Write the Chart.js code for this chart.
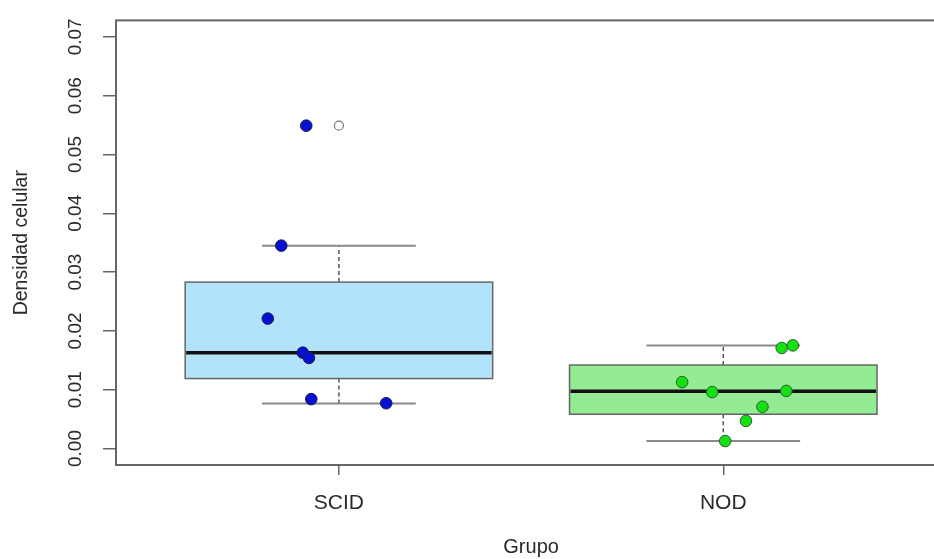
<!DOCTYPE html>
<html>
<head>
<meta charset="utf-8">
<script src="https://cdn.jsdelivr.net/npm/chart.js@4"></script>
<style>
  html, body { margin: 0; background: #fff; overflow: hidden; }
  #wrap { width: 953px; height: 559px; }
</style>
</head>
<body>
<div id="wrap"><canvas id="boxChart" width="953" height="559"></canvas></div>
<script>
// groups and tick values
const groups = ["SCID", "NOD"];
const groupPos = [1, 2];
const yTicks = [0, 0.01, 0.02, 0.03, 0.04, 0.05, 0.06, 0.07];

// box stats (lower whisker, q1, median, q3, upper whisker)
const whiskerLow = [0.00766, 0.00127];
const q1 = [0.0119, 0.00583];
const median = [0.0163, 0.00972];
const q3 = [0.0283, 0.0142];
const whiskerHigh = [0.0345, 0.01754];

// jittered points
const scidValues = [0.0549, 0.0345, 0.0221, 0.0163, 0.0154, 0.0084, 0.0077];
const scidJitter = [0.915, 0.850, 0.815, 0.906, 0.922, 0.928, 1.123];
const nodValues = [0.0113, 0.0096, 0.0098, 0.0071, 0.0047, 0.00127, 0.0171, 0.01754];
const nodJitter = [1.893, 1.971, 2.164, 2.102, 2.059, 2.005, 2.152, 2.181];

// outlier drawn by boxplot
const outlierPos = [1];
const outlierValues = [0.0549];

const boxFill = ["#b3e3fb", "#93ec93"];

function toPoints(xs, ys) {
  return ys.map((y, i) => ({ x: xs[i], y: y }));
}

const boxPlugin = {
  id: "boxes",
  beforeDatasetsDraw(chart) {
    const ctx = chart.ctx;
    const x = chart.scales.x;
    const y = chart.scales.y;
    const area = chart.chartArea;

    ctx.save();
    groupPos.forEach((pos, i) => {
      const left = x.getPixelForValue(pos - 0.4);
      const right = x.getPixelForValue(pos + 0.4);
      const sLeft = x.getPixelForValue(pos - 0.2);
      const sRight = x.getPixelForValue(pos + 0.2);
      const cx = x.getPixelForValue(pos);
      const top = y.getPixelForValue(q3[i]);
      const bottom = y.getPixelForValue(q1[i]);

      // dashed whiskers
      ctx.strokeStyle = "#555";
      ctx.lineWidth = 1.5;
      ctx.setLineDash([4, 3]);
      ctx.beginPath();
      ctx.moveTo(cx, top);
      ctx.lineTo(cx, y.getPixelForValue(whiskerHigh[i]));
      ctx.moveTo(cx, bottom);
      ctx.lineTo(cx, y.getPixelForValue(whiskerLow[i]));
      ctx.stroke();
      ctx.setLineDash([]);

      // staples
      ctx.strokeStyle = "#8a8a8a";
      ctx.lineWidth = 2;
      ctx.beginPath();
      ctx.moveTo(sLeft, y.getPixelForValue(whiskerHigh[i]));
      ctx.lineTo(sRight, y.getPixelForValue(whiskerHigh[i]));
      ctx.moveTo(sLeft, y.getPixelForValue(whiskerLow[i]));
      ctx.lineTo(sRight, y.getPixelForValue(whiskerLow[i]));
      ctx.stroke();

      // box
      ctx.fillStyle = boxFill[i];
      ctx.fillRect(left, top, right - left, bottom - top);
      ctx.strokeStyle = "#666";
      ctx.lineWidth = 1.5;
      ctx.strokeRect(left, top, right - left, bottom - top);

      // median
      ctx.strokeStyle = "#111";
      ctx.lineWidth = 3.5;
      ctx.beginPath();
      ctx.moveTo(left + 1, y.getPixelForValue(median[i]));
      ctx.lineTo(right - 1, y.getPixelForValue(median[i]));
      ctx.stroke();
    });

    // plot frame (right side falls outside the window, as in the reference)
    ctx.strokeStyle = "#666";
    ctx.lineWidth = 2;
    ctx.strokeRect(area.left, area.top, area.right - area.left, area.bottom - area.top);
    ctx.restore();
  }
};

const ctx = document.getElementById("boxChart").getContext("2d");
new Chart(ctx, {
  type: "scatter",
  data: {
    datasets: [
      {
        label: "outlier",
        data: toPoints(outlierPos, outlierValues),
        pointRadius: 4.5,
        pointBackgroundColor: "#fff",
        pointBorderColor: "#777",
        pointBorderWidth: 1.2
      },
      {
        label: "SCID",
        data: toPoints(scidJitter, scidValues),
        pointRadius: 5.8,
        pointBackgroundColor: "#0610d2",
        pointBorderColor: "#1a1a50",
        pointBorderWidth: 1
      },
      {
        label: "NOD",
        data: toPoints(nodJitter, nodValues),
        pointRadius: 5.8,
        pointBackgroundColor: "#14e014",
        pointBorderColor: "#2d5e2d",
        pointBorderWidth: 1
      }
    ]
  },
  options: {
    responsive: false,
    animation: false,
    layout: { padding: { top: 19, right: 0, left: 0, bottom: 0 } },
    plugins: {
      legend: { display: false },
      tooltip: { enabled: false }
    },
    scales: {
      x: {
        type: "linear",
        min: 0.42,
        max: 2.58,
        afterBuildTicks: (scale) => { scale.ticks = groupPos.map(v => ({ value: v })); },
        afterFit: (scale) => {
          scale.height = 94;
          scale.paddingLeft = 0;
          scale.paddingRight = 0;
        },
        border: { display: false },
        grid: { drawOnChartArea: false, tickLength: 10, color: "#666", lineWidth: 1.5 },
        ticks: {
          autoSkip: false,
          maxRotation: 0,
          padding: 16,
          color: "#2a2a2a",
          font: { family: "Liberation Sans, Arial", size: 21 },
          callback: (v) => groups[groupPos.indexOf(v)]
        },
        title: {
          display: true,
          text: "Grupo",
          color: "#2a2a2a",
          padding: { top: 0, bottom: 0 },
          font: { family: "Liberation Sans, Arial", size: 20 }
        }
      },
      y: {
        min: -0.0028,
        max: 0.0728,
        afterBuildTicks: (scale) => { scale.ticks = yTicks.map(v => ({ value: v })); },
        afterFit: (scale) => { scale.width = 116; },
        border: { display: false },
        grid: { drawOnChartArea: false, tickLength: 13, color: "#666", lineWidth: 1.5 },
        ticks: {
          autoSkip: false,
          minRotation: 90,
          maxRotation: 90,
          crossAlign: "center",
          padding: 9,
          color: "#2a2a2a",
          font: { family: "Liberation Sans, Arial", size: 19 },
          callback: (v) => v.toFixed(2)
        },
        title: {
          display: true,
          text: "Densidad celular",
          color: "#2a2a2a",
          padding: { top: 10, bottom: 0 },
          font: { family: "Liberation Sans, Arial", size: 19.5 }
        }
      }
    }
  },
  plugins: [boxPlugin]
});
</script>
</body>
</html>
